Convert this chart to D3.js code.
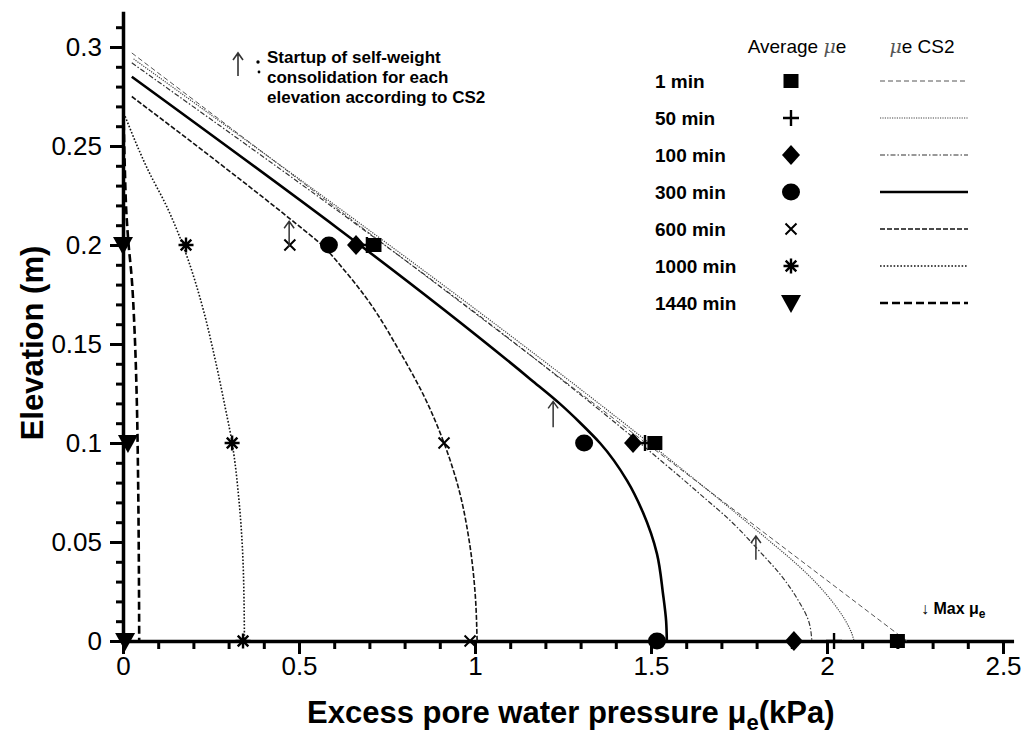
<!DOCTYPE html>
<html><head><meta charset="utf-8">
<script src="https://cdn.jsdelivr.net/npm/d3@7/dist/d3.min.js"></script>
<style>
body{margin:0;background:#fff;}
svg{display:block;font-family:"Liberation Sans",Arial,sans-serif;}
</style></head><body>
<svg id="chart" width="1021" height="736"></svg>
<script>
// ---------- DATA ----------
const seriesNames = ["1 min","50 min","100 min","300 min","600 min","1000 min","1440 min"];
const markerElevations = [0.2, 0.1, 0];
// average measured excess pore pressure (kPa) at elevations 0.2, 0.1, 0
const avg1 = [0.713, 1.511, 2.2];
const avg50 = [0.693, 1.483, 2.02];
const avg100 = [0.662, 1.449, 1.906];
const avg300 = [0.585, 1.31, 1.517];
const avg600 = [0.474, 0.912, 0.986];
const avg1000 = [0.179, 0.31, 0.341];
const avg1440 = [0.0, 0.014, 0.006];
// CS2 curves [pressure kPa, elevation m]
const cs1 = [[0.025,0.297],[2.227,0]];
const cs50 = [[0.03,0.294],[1.84,0.05],[1.90,0.041],[1.96,0.031],[2.01,0.021],[2.05,0.011],[2.07,0.004],[2.077,0]];
const cs100 = [[0.025,0.292],[1.634,0.075],[1.73,0.06],[1.81,0.045],[1.87,0.033],[1.92,0.02],[1.948,0.01],[1.957,0]];
const cs300 = [[0.025,0.285],[1.159,0.132],[1.24,0.12],[1.30,0.11],[1.355,0.1],[1.432,0.081],[1.477,0.065],[1.517,0.044],[1.534,0.024],[1.543,0.01],[1.545,0]];
const cs600 = [[0.025,0.275],[0.469,0.214],[0.497,0.21],[0.565,0.2],[0.63,0.187],[0.688,0.174],[0.79,0.145],[0.857,0.123],[0.912,0.1],[0.955,0.076],[0.984,0.05],[1.0,0.025],[1.006,0]];
const cs1000 = [[0.006,0.265],[0.068,0.239],[0.128,0.218],[0.172,0.199],[0.224,0.17],[0.262,0.142],[0.288,0.12],[0.31,0.1],[0.33,0.07],[0.342,0.035],[0.345,0]];
const cs1440 = [[0.002,0.262],[0.005,0.24],[0.01,0.215],[0.016,0.2],[0.024,0.185],[0.033,0.156],[0.039,0.123],[0.043,0.08],[0.045,0.04],[0.046,0]];
// startup arrows [pressure, elevation bottom, elevation top]
const startupArrows = [[0.472,0.199,0.212],[1.222,0.108,0.121],[1.798,0.041,0.053]];
const xTicks = [0,0.5,1,1.5,2,2.5];
const xTickLabels = ["0","0.5","1","1.5","2","2.5"];
const yTicks = [0,0.05,0.1,0.15,0.2,0.25,0.3];
const yTickLabels = ["0","0.05","0.1","0.15","0.2","0.25","0.3"];
const xMinor = d3.range(0,26).map(i=>i/10);
const yMinor = d3.range(0,32).map(i=>i/100);

// ---------- STYLES ----------
const avgData = [avg1,avg50,avg100,avg300,avg600,avg1000,avg1440];
const csData = [cs1,cs50,cs100,cs300,cs600,cs1000,cs1440];
const markerTypes = ["square","plus","diamond","circle","cross","asterisk","triangle"];
const lineStyles = [
  {w:1, dash:"5,3", c:"#555"},
  {w:1.2, dash:"1.2,1.2", c:"#444"},
  {w:1.2, dash:"5,2,1.5,2", c:"#333"},
  {w:2.6, dash:null, c:"#000"},
  {w:1.6, dash:"5,2", c:"#111"},
  {w:1.6, dash:"1.6,1.8", c:"#111"},
  {w:2.6, dash:"8,4", c:"#000"}
];

const svg = d3.select("#chart");
const x = d3.scaleLinear().domain([0,2.53]).range([123,123+2.53*352]);
const y = d3.scaleLinear().domain([0,0.318]).range([641,641-0.318*1980]);

// axes
const gx = svg.append("g").attr("transform","translate(0,641)");
gx.call(d3.axisBottom(x).tickValues(xMinor).tickSize(8).tickFormat("").tickSizeOuter(0));
gx.selectAll(".tick line").attr("stroke-width",3);
gx.select(".domain").attr("stroke-width",3.5);
const gx2 = svg.append("g").attr("transform","translate(0,641)");
gx2.call(d3.axisBottom(x).tickValues(xTicks).tickSize(13).tickPadding(3).tickFormat((d,i)=>xTickLabels[i]).tickSizeOuter(0));
gx2.select(".domain").remove();
gx2.selectAll(".tick line").attr("stroke-width",3);
gx2.selectAll("text").attr("font-size",26).attr("fill","#000").attr("font-family","Liberation Sans, Arial, sans-serif");

const gy = svg.append("g").attr("transform","translate(123,0)");
gy.call(d3.axisLeft(y).tickValues(yMinor).tickSize(7).tickFormat("").tickSizeOuter(0));
gy.selectAll(".tick line").attr("stroke-width",3);
gy.select(".domain").attr("stroke-width",3.5);
const gy2 = svg.append("g").attr("transform","translate(123,0)");
gy2.call(d3.axisLeft(y).tickValues(yTicks).tickSize(13).tickPadding(8).tickFormat((d,i)=>yTickLabels[i]).tickSizeOuter(0));
gy2.select(".domain").remove();
gy2.selectAll(".tick line").attr("stroke-width",3);
gy2.selectAll("text").attr("font-size",26).attr("fill","#000").attr("font-family","Liberation Sans, Arial, sans-serif");

// axis titles
svg.append("text").attr("x",307).attr("y",723).attr("text-anchor","start")
  .attr("font-size",31).attr("font-weight","bold")
  .html('Excess pore water pressure μ<tspan baseline-shift="-30%" font-size="22">e</tspan>(kPa)');
svg.append("text").attr("transform","translate(43,343) rotate(-90)").attr("text-anchor","middle")
  .attr("font-size",31).attr("font-weight","bold").text("Elevation (m)");

// curves
const line = d3.line().x(d=>x(d[0])).y(d=>y(d[1])).curve(d3.curveMonotoneY);
csData.forEach((pts,i)=>{
  const s = lineStyles[i];
  svg.append("path").attr("d",line(pts)).attr("fill","none")
    .attr("stroke",s.c).attr("stroke-width",s.w)
    .attr("stroke-dasharray",s.dash);
});

// markers
function drawMarker(g,type,cx,cy,sc){
  sc = sc||1;
  if(type==="square") g.append("rect").attr("x",cx-7.5*sc).attr("y",cy-7*sc).attr("width",15*sc).attr("height",14*sc).attr("fill","#000");
  else if(type==="plus") g.append("path").attr("d",`M${cx-8*sc},${cy}H${cx+8*sc}M${cx},${cy-8*sc}V${cy+8*sc}`).attr("stroke","#000").attr("stroke-width",2.4);
  else if(type==="diamond") g.append("path").attr("d",`M${cx},${cy-10*sc}L${cx+9*sc},${cy}L${cx},${cy+10*sc}L${cx-9*sc},${cy}Z`).attr("fill","#000");
  else if(type==="circle") g.append("ellipse").attr("cx",cx).attr("cy",cy).attr("rx",9*sc).attr("ry",8.5*sc).attr("fill","#000");
  else if(type==="cross") g.append("path").attr("d",`M${cx-5.5*sc},${cy-5.5*sc}L${cx+5.5*sc},${cy+5.5*sc}M${cx-5.5*sc},${cy+5.5*sc}L${cx+5.5*sc},${cy-5.5*sc}`).attr("stroke","#000").attr("stroke-width",2);
  else if(type==="asterisk"){
    const r=7.5*sc; let d="";
    for(let k=0;k<4;k++){const a=k*Math.PI/4; d+=`M${cx-r*Math.cos(a)},${cy-r*Math.sin(a)}L${cx+r*Math.cos(a)},${cy+r*Math.sin(a)}`;}
    g.append("path").attr("d",d).attr("stroke","#000").attr("stroke-width",2.4);
  }
  else if(type==="triangle") g.append("path").attr("d",`M${cx-10*sc},${cy-8*sc}L${cx+10*sc},${cy-8*sc}L${cx},${cy+10*sc}Z`).attr("fill","#000");
}
const gm = svg.append("g");
avgData.forEach((vals,i)=>{
  vals.forEach((v,j)=>drawMarker(gm,markerTypes[i],x(v),y(markerElevations[j])));
});

// startup arrows
function upArrow(g,px,y1,y2,w){
  g.append("path").attr("d",`M${px},${y1}V${y2}M${px-5},${y2+7}L${px},${y2}L${px+5},${y2+7}`)
    .attr("fill","none").attr("stroke","#333").attr("stroke-width",w||1.5);
}
startupArrows.forEach(a=>upArrow(svg,x(a[0]),y(a[1]),y(a[2])));

// annotation
upArrow(svg,238,76,53,1.6);
svg.append("circle").attr("cx",258).attr("cy",62).attr("r",1.7).attr("fill","#000");
svg.append("circle").attr("cx",259).attr("cy",72).attr("r",1.4).attr("fill","#000");
const ann = ["Startup of self-weight","consolidation for each","elevation according to CS2"];
ann.forEach((t,i)=>svg.append("text").attr("x",267).attr("y",63+i*20).attr("font-size",17).attr("font-weight","bold").text(t));

// max annotation
svg.append("text").attr("x",921).attr("y",614).attr("font-size",16).attr("font-weight","bold")
  .html('↓ Max μ<tspan baseline-shift="-30%" font-size="12">e</tspan>');

// legend
const legX = 655, legMark = 791, legL1 = 880, legL2 = 968, leg0 = 81, legDy = 37;
svg.append("text").attr("x",797).attr("y",53).attr("text-anchor","middle").attr("font-size",19)
  .html('Average <tspan font-style="italic" font-family="DejaVu Serif" fill="#555" font-size="19">μ</tspan>e');
svg.append("text").attr("x",922).attr("y",53).attr("text-anchor","middle").attr("font-size",19)
  .html('<tspan font-style="italic" font-family="DejaVu Serif" fill="#555" font-size="19">μ</tspan>e CS2');
seriesNames.forEach((n,i)=>{
  const yy = leg0 + i*legDy;
  svg.append("text").attr("x",legX).attr("y",yy+7).attr("font-size",19).attr("font-weight","bold").text(n);
  drawMarker(svg,markerTypes[i],legMark,yy);
  const s = lineStyles[i];
  svg.append("line").attr("x1",legL1).attr("x2",legL2).attr("y1",yy).attr("y2",yy)
    .attr("stroke",s.c).attr("stroke-width",s.w).attr("stroke-dasharray",s.dash);
});
</script></body></html>
